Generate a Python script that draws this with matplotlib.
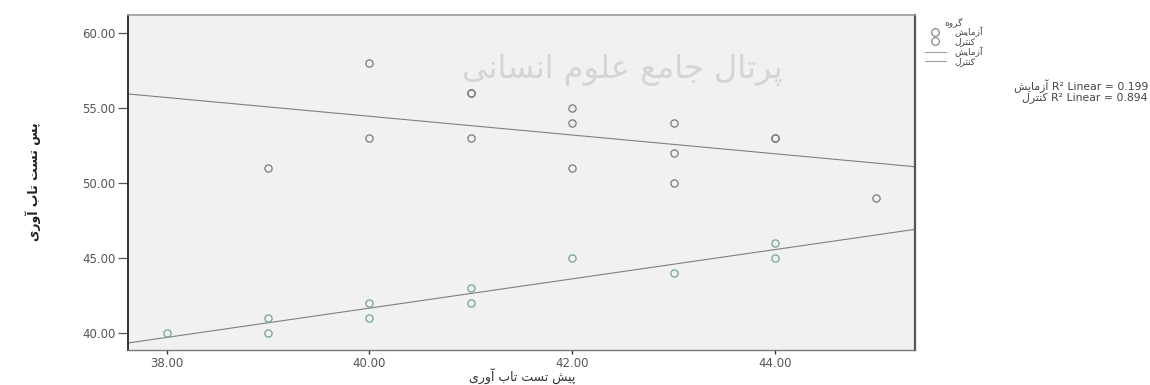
import matplotlib
matplotlib.use("Agg")
import matplotlib.pyplot as plt
from matplotlib.lines import Line2D
import numpy as np

plt.rcParams['font.family'] = ['DejaVu Sans']

# ---------------- data ----------------
exp_x = [39, 40, 40, 41, 41, 41, 42, 42, 42, 43, 43, 43, 44, 44, 45]
exp_y = [51, 58, 53, 56, 56, 53, 55, 54, 51, 54, 52, 50, 53, 53, 49]
ctl_x = [38, 39, 39, 40, 40, 41, 41, 42, 43, 44, 44]
ctl_y = [40, 41, 40, 42, 41, 43, 42, 45, 44, 46, 45]

x_ticks = [38, 40, 42, 44]
y_ticks = [40, 45, 50, 55, 60]

group_title = "گروه"
group_names = ["آزمایش", "کنترل"]
r2_values = [0.199, 0.894]
x_label = "پیش تست تاب آوری"
y_label = "پس تست تاب آوری"
watermark = "پرتال جامع علوم انسانی"

# ------------- minimal Persian shaping (presentation forms + RTL) -------------
FORMS = {
    '\u0627': ('\uFE8D', '\uFE8E', None, None),
    '\u0622': ('\uFE81', '\uFE82', None, None),
    '\u0628': ('\uFE8F', '\uFE90', '\uFE91', '\uFE92'),
    '\u067E': ('\uFB56', '\uFB57', '\uFB58', '\uFB59'),
    '\u062A': ('\uFE95', '\uFE96', '\uFE97', '\uFE98'),
    '\u062C': ('\uFE9D', '\uFE9E', '\uFE9F', '\uFEA0'),
    '\u062F': ('\uFEA9', '\uFEAA', None, None),
    '\u0631': ('\uFEAD', '\uFEAE', None, None),
    '\u0632': ('\uFEAF', '\uFEB0', None, None),
    '\u0633': ('\uFEB1', '\uFEB2', '\uFEB3', '\uFEB4'),
    '\u0634': ('\uFEB5', '\uFEB6', '\uFEB7', '\uFEB8'),
    '\u0639': ('\uFEC9', '\uFECA', '\uFECB', '\uFECC'),
    '\u06A9': ('\uFB8E', '\uFB8F', '\uFB90', '\uFB91'),
    '\u06AF': ('\uFB92', '\uFB93', '\uFB94', '\uFB95'),
    '\u0644': ('\uFEDD', '\uFEDE', '\uFEDF', '\uFEE0'),
    '\u0645': ('\uFEE1', '\uFEE2', '\uFEE3', '\uFEE4'),
    '\u0646': ('\uFEE5', '\uFEE6', '\uFEE7', '\uFEE8'),
    '\u0647': ('\uFEE9', '\uFEEA', '\uFEEB', '\uFEEC'),
    '\u0648': ('\uFEED', '\uFEEE', None, None),
    '\u06CC': ('\uFBFC', '\uFBFD', '\uFBFE', '\uFBFF'),
}


def shape(s):
    out = []
    n = len(s)
    for i, c in enumerate(s):
        if c not in FORMS:
            out.append(c)
            continue
        f = FORMS[c]
        prev = s[i - 1] if i > 0 else None
        nxt = s[i + 1] if i < n - 1 else None
        jp = prev in FORMS and FORMS[prev][2] is not None
        jn = f[2] is not None and nxt in FORMS
        if jp and jn:
            g = f[3]
        elif jp:
            g = f[1]
        elif jn:
            g = f[2]
        else:
            g = f[0]
        out.append(g)
    return ''.join(reversed(out))


# ---------------- figure ----------------
W, H = 1150, 385
fig = plt.figure(figsize=(W / 100, H / 100), dpi=100)
ax = fig.add_axes([128 / W, 1 - 350 / H, (915 - 128) / W, (350 - 15) / H])
ax.set_facecolor('#f1f1f1')

xlim = (37.62, 45.38)
ylim = (38.87, 61.2)
ax.set_xlim(*xlim)
ax.set_ylim(*ylim)

# watermark
ax.text(0.628, 0.836, shape(watermark), transform=ax.transAxes, fontsize=23,
        color='#d4d4d4', ha='center', va='center', zorder=0)

exp_col = '#7a7a7a'
ctl_col = '#74a09b'
line_col = '#808080'

ax.plot(exp_x, exp_y, linestyle='none', marker='o', markersize=5.2,
        markerfacecolor='none', markeredgecolor=exp_col, markeredgewidth=0.9, zorder=3)
ax.plot(ctl_x, ctl_y, linestyle='none', marker='o', markersize=5.2,
        markerfacecolor='none', markeredgecolor=ctl_col, markeredgewidth=0.9, zorder=3)

xx = np.array(xlim)
for xs, ys in ((exp_x, exp_y), (ctl_x, ctl_y)):
    m, b = np.polyfit(xs, ys, 1)
    ax.plot(xx, m * xx + b, color=line_col, lw=0.8, zorder=2)

ax.set_xticks(x_ticks)
ax.set_yticks(y_ticks)
ax.set_xticklabels([f"{v:.2f}" for v in x_ticks])
ax.set_yticklabels([f"{v:.2f}" for v in y_ticks])
ax.tick_params(axis='y', direction='out', length=7, width=0.9, color='#555555',
               labelsize=8.5, labelcolor='#555555', pad=2)
ax.tick_params(axis='x', direction='out', length=3, width=1.0, color='#333333',
               labelsize=8.5, labelcolor='#555555', pad=2)

for side, col, lw in (('left', '#222222', 1.3), ('bottom', '#777777', 1.0),
                      ('top', '#9a9a9a', 1.2), ('right', '#555555', 1.6)):
    ax.spines[side].set_color(col)
    ax.spines[side].set_linewidth(lw)

fig.text(522 / W, 1 - 376 / H, shape(x_label), ha='center', va='center',
         fontsize=9, color='#333333')
fig.text(33 / W, 1 - 182 / H, shape(y_label), ha='center', va='center',
         fontsize=9, color='#222222', rotation=90, fontweight='bold')

# legend
handles = [
    Line2D([], [], linestyle='none', marker='o', markersize=5.5, markerfacecolor='none',
           markeredgecolor='#8a8a8a', markeredgewidth=0.9),
    Line2D([], [], linestyle='none', marker='o', markersize=5.5, markerfacecolor='none',
           markeredgecolor='#8a8a8a', markeredgewidth=0.9),
    Line2D([], [], color='#a0a0a0', lw=0.8),
    Line2D([], [], color='#a0a0a0', lw=0.8),
]
labels = [shape(group_names[0]), shape(group_names[1]),
          shape(group_names[0]), shape(group_names[1])]
leg = fig.legend(handles, labels, title=shape(group_title), loc='upper left',
                 bbox_to_anchor=(925 / W, 1 - 17 / H), frameon=False, fontsize=6.5,
                 title_fontsize=6.5, labelspacing=0.0, handlelength=2.3,
                 handletextpad=0.9, borderpad=0, borderaxespad=0)
for t in leg.get_texts():
    t.set_color('#444444')
leg.get_title().set_color('#444444')

for i, (g, r2) in enumerate(zip(group_names, r2_values)):
    fig.text(1148 / W, 1 - (86 + 12 * i) / H, f"{shape(g)} R² Linear = {r2:.3f}",
             ha='right', va='center', fontsize=7.8, color='#444444')

fig.savefig('out.png', dpi=100)
